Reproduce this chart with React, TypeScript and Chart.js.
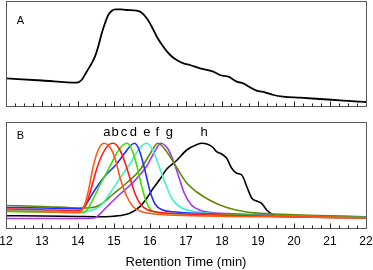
import React, { useEffect, useRef } from 'react';
import { Chart, registerables } from 'chart.js';

Chart.register(...registerables);
Chart.defaults.font.family = '"Liberation Sans", Arial, sans-serif';

// ---- axis ----
const xMin = 12;
const xMax = 22;
const xMajorStep = 1;
const xMinorStep = 0.25;
const xTitle = 'Retention Time (min)';

// ---- panel A (intensity, arbitrary units) ----
const traceA: [number, number][] = [
  [12, 28.7], [13, 26.5], [13.96, 24.3], [14.1, 27], [14.24, 35.3], [14.38, 43.7],
  [14.47, 50.3], [14.56, 60.3], [14.66, 73.7], [14.75, 83.7], [14.84, 92], [14.94, 96.3],
  [15.03, 97.7], [15.17, 97.7], [15.35, 97], [15.63, 96.3], [15.77, 94.3], [15.91, 88.7],
  [16.05, 80.3], [16.19, 70.3], [16.37, 60.3], [16.56, 52], [16.74, 47], [16.93, 43.7],
  [17.11, 42], [17.39, 38.7], [17.76, 35.3], [17.94, 32], [18.18, 30.3], [18.41, 25.3],
  [18.59, 23.7], [18.78, 19.7], [18.96, 16.3], [19.19, 14.7], [19.43, 12], [19.7, 10.3],
  [20.17, 9.3], [20.72, 8], [21.28, 6.7], [21.83, 5.3], [22, 5],
];

// ---- panel B traces ----
const traceBa: [number, number][] = [
  [12, 18], [13, 17.3], [14, 16.5], [14.1, 18.5], [14.2, 26], [14.3, 40], [14.42, 62],
  [14.55, 78], [14.72, 85.7], [14.92, 80], [15.05, 68], [15.17, 51], [15.35, 33],
  [15.54, 22], [15.8, 17], [16.3, 14.5], [17.5, 13], [20, 12], [22, 11.2],
];
const traceBb: [number, number][] = [
  [12, 20], [13, 19.3], [14, 18.5], [14.12, 19.5], [14.25, 27], [14.38, 42], [14.52, 60],
  [14.68, 75], [14.85, 84], [14.98, 85.7], [15.15, 80], [15.3, 67], [15.45, 50],
  [15.6, 34], [15.75, 24], [15.95, 19], [16.3, 16.5], [17, 15], [19, 13], [22, 11],
];
const traceBc: [number, number][] = [
  [12, 17.5], [13, 17], [14.1, 16.3], [14.22, 18], [14.35, 25], [14.45, 32], [14.61, 44],
  [14.85, 60], [15.08, 76], [15.25, 84], [15.37, 85.7], [15.5, 79], [15.63, 64],
  [15.76, 44], [15.9, 27], [16.03, 19], [16.2, 16.5], [17, 15], [22, 11.5],
];
const traceBd: [number, number][] = [
  [12, 21.5], [13, 21], [14.05, 20.3], [14.18, 22], [14.3, 29], [14.45, 38], [14.6, 46],
  [14.8, 55], [15.05, 64], [15.3, 76], [15.45, 83], [15.57, 85.7], [15.7, 79],
  [15.85, 60], [16, 38], [16.14, 25], [16.35, 19], [16.7, 17], [17.5, 15.5], [19, 13.5],
  [22, 11.5],
];
const traceBe: [number, number][] = [
  [12, 18.5], [13, 18], [14.1, 17], [14.3, 18], [14.5, 20.5], [14.65, 24], [14.89, 36],
  [15.17, 51], [15.44, 65], [15.72, 81], [15.91, 85.7], [16.1, 77], [16.25, 63],
  [16.42, 46], [16.6, 31], [16.88, 21], [17.2, 17.7], [18, 15], [22, 11.5],
];
const traceBf: [number, number][] = [
  [12, 23.5], [13, 22.5], [14.1, 21], [14.4, 21.5], [14.61, 24], [14.98, 35], [15.35, 46],
  [15.72, 59], [16, 75], [16.22, 85.7], [16.45, 78], [16.74, 61.5], [17.02, 46],
  [17.3, 37], [17.7, 28], [18.13, 21.5], [18.6, 17.5], [19.06, 15.7], [20.17, 14], [22, 12],
];
const traceBg: [number, number][] = [
  [12, 10.5], [13, 10.5], [14, 10.5], [14.45, 11], [14.55, 13], [14.8, 22], [15.17, 35],
  [15.54, 47], [15.91, 63], [16.14, 78], [16.3, 85.7], [16.5, 80], [16.65, 68],
  [16.8, 52], [16.95, 36], [17.15, 24], [17.4, 18.5], [17.7, 16.5], [18.5, 15],
  [20, 13.5], [22, 12.3],
];
const traceBh: [number, number][] = [
  [12, 13.3], [13, 13], [14, 12.5], [14.5, 12.3], [15, 12.8], [15.2, 13.5], [15.44, 15.7],
  [15.72, 22.3], [15.91, 30.7], [16.09, 40.7], [16.28, 50], [16.46, 59.7], [16.74, 68.5],
  [17.02, 79], [17.3, 84.3], [17.44, 85.7], [17.6, 84.7], [17.75, 81.5], [17.85, 77.3],
  [17.99, 75], [18.13, 70.7], [18.27, 60.7], [18.41, 55.7], [18.55, 54], [18.69, 42.3],
  [18.83, 30.7], [18.96, 28], [19.1, 25.7], [19.24, 19], [19.43, 14], [19.7, 12.5],
  [22, 11.5],
];

const seriesB = [traceBa, traceBb, traceBc, traceBd, traceBe, traceBf, traceBg, traceBh];
const seriesBColors = ['#ff5a14', '#ff1a1a', '#3ee000', '#1e32ff', '#3ff5c5', '#5f8a00', '#a236f5', '#000000'];
const peakLabels = ['a', 'b', 'c', 'd', 'e', 'f', 'g', 'h'];
const peakLabelX = [14.8, 15.03, 15.28, 15.54, 15.91, 16.2, 16.54, 17.5];
const peakLabelY = 93;

const panelALabel = 'A';
const panelBLabel = 'B';

const makeFramePlugin = (panel: string, panelY: number, labels?: boolean) => ({
  id: 'frameTicks' + panel,
  afterDraw(chart: any) {
    const { ctx, chartArea } = chart;
    const { left, right, top, bottom } = chartArea;
    const xs = chart.scales.x;
    const ys = chart.scales.y;
    ctx.save();
    ctx.strokeStyle = '#5a5a5a';
    ctx.lineWidth = 1;
    const l = Math.round(left) + 0.5;
    const t = Math.round(top) + 0.5;
    const r = Math.round(right) + 0.5;
    const b = Math.round(bottom) - 0.5;
    ctx.strokeRect(l, t, r - l, b - t);
    ctx.strokeStyle = '#222';
    const n = Math.round((xMax - xMin) / xMinorStep);
    const per = Math.round(xMajorStep / xMinorStep);
    for (let i = 1; i < n; i++) {
      const v = xMin + i * xMinorStep;
      const px = Math.round(xs.getPixelForValue(v)) + 0.5;
      const len = i % per === 0 ? 5 : 3;
      ctx.beginPath();
      ctx.moveTo(px, b);
      ctx.lineTo(px, b - len);
      ctx.stroke();
    }
    ctx.fillStyle = '#000';
    ctx.textBaseline = 'alphabetic';
    ctx.textAlign = 'left';
    ctx.font = '11px "Liberation Sans", Arial, sans-serif';
    ctx.fillText(panel, xs.getPixelForValue(12.3), ys.getPixelForValue(panelY));
    if (labels) {
      ctx.font = '13px "Liberation Sans", Arial, sans-serif';
      ctx.textAlign = 'center';
      peakLabels.forEach((s, i) => {
        ctx.fillText(s, xs.getPixelForValue(peakLabelX[i]), ys.getPixelForValue(peakLabelY));
      });
    }
    ctx.restore();
  },
});

const toXY = (s: [number, number][]) => s.map(([x, y]) => ({ x, y }));

export default function App() {
  const refA = useRef<HTMLCanvasElement>(null);
  const refB = useRef<HTMLCanvasElement>(null);

  useEffect(() => {
    const chartA = new Chart(refA.current!, {
      type: 'line',
      data: {
        datasets: [
          {
            data: toXY(traceA),
            borderColor: '#000',
            borderWidth: 1.8,
            pointRadius: 0,
            cubicInterpolationMode: 'monotone',
          },
        ],
      },
      options: {
        animation: false,
        responsive: false,
        events: [],
        layout: { padding: { left: 6, right: 7, top: 1, bottom: 3 } },
        plugins: { legend: { display: false }, tooltip: { enabled: false } },
        scales: {
          x: { type: 'linear', min: xMin, max: xMax, display: false },
          y: { min: 0, max: 106, display: false },
        },
      },
      plugins: [makeFramePlugin(panelALabel, 83)],
    });

    const chartB = new Chart(refB.current!, {
      type: 'line',
      data: {
        datasets: seriesB.map((s, i) => ({
          data: toXY(s),
          borderColor: seriesBColors[i],
          borderWidth: 1.6,
          pointRadius: 0,
          cubicInterpolationMode: 'monotone' as const,
        })),
      },
      options: {
        animation: false,
        responsive: false,
        events: [],
        layout: { padding: { left: 6, right: 7, top: 12, bottom: 0 } },
        plugins: { legend: { display: false }, tooltip: { enabled: false } },
        scales: {
          x: {
            type: 'linear',
            min: xMin,
            max: xMax,
            grid: { display: false, drawTicks: false },
            border: { display: false },
            ticks: {
              stepSize: xMajorStep,
              color: '#000',
              font: { size: 12 },
              padding: 5,
              maxRotation: 0,
              autoSkip: false,
            },
            title: {
              display: true,
              text: xTitle,
              color: '#000',
              font: { size: 13 },
              padding: 0,
            },
            afterFit: (scale: any) => {
              scale.height = 41;
              scale.paddingLeft = 0;
              scale.paddingRight = 0;
            },
          },
          y: { min: 0, max: 107, display: false },
        },
      },
      plugins: [makeFramePlugin(panelBLabel, 89.7, true)],
    });

    return () => {
      chartA.destroy();
      chartB.destroy();
    };
  }, []);

  return (
    <div style={{ position: 'absolute', left: 0, top: 0, width: 373, height: 270, background: '#fff' }}>
      <canvas ref={refA} width={373} height={110} style={{ position: 'absolute', left: 0, top: 0, display: 'block' }} />
      <canvas ref={refB} width={373} height={160} style={{ position: 'absolute', left: 0, top: 110, display: 'block' }} />
    </div>
  );
}
